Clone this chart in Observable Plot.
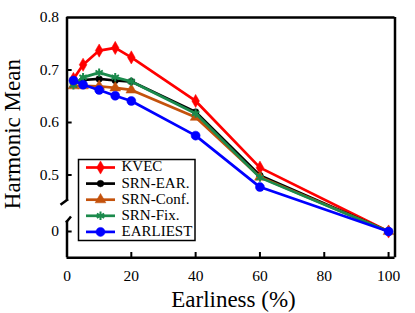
<!DOCTYPE html>
<html>
<head>
<meta charset="utf-8">
<script src="https://cdn.jsdelivr.net/npm/d3@7"></script>
<script src="https://cdn.jsdelivr.net/npm/@observablehq/plot@0.6"></script>
<style>
  html, body { margin: 0; padding: 0; background: #fff; }
  #chart svg { display: block; }
</style>
</head>
<body>
<div id="chart"></div>
<script>
// ---- data ----
const earliness = [2, 5, 10, 15, 20, 40, 60, 100];
const kvec     = [0.683, 0.710, 0.737, 0.742, 0.724, 0.641, 0.514, 0];
const srnEar   = [0.677, 0.681, 0.683, 0.680, 0.678, 0.620, 0.499, 0];
const srnConf  = [0.670, 0.670, 0.669, 0.666, 0.662, 0.610, 0.496, 0];
const srnFix   = [0.671, 0.686, 0.695, 0.686, 0.678, 0.617, 0.495, 0];
const earliest = [0.680, 0.672, 0.662, 0.651, 0.641, 0.575, 0.477, 0];
const seriesNames = ["KVEC", "SRN-EAR.", "SRN-Conf.", "SRN-Fix.", "EARLIEST"];
const xTicks = [0, 20, 40, 60, 80, 100];
const yTicks = [0, 0.5, 0.6, 0.7, 0.8];
const xLabel = "Earliness (%)";
const yLabel = "Harmonic Mean";

const seriesValues = [kvec, srnEar, srnConf, srnFix, earliest];
const styles = [
  {color: "#ff0000", symbol: "diamond", r: 4, filled: true},
  {color: "#000000", symbol: "circle", r: 3.3, filled: true},
  {color: "#c4520c", symbol: "triangle", r: 4, filled: true},
  {color: "#1b8a4c", symbol: "asterisk", r: 4, filled: false},
  {color: "#0000ff", symbol: "circle", r: 4.5, filled: true}
];

const series = seriesNames.map((name, i) => ({
  name, ...styles[i],
  data: earliness.map((x, j) => ({x, y: seriesValues[i][j]}))
}));

const yMin = -0.05, yMax = 0.8, xMax = 102;
const lowTop = 0.02, upBottom = 0.45;
const FONT = "'Liberation Serif', 'Times New Roman', Tinos, Times, 'Nimbus Roman', 'Nimbus Roman No9 L', 'Noto Serif', 'DejaVu Serif', FreeSerif, serif";

const marks = [];
for (const s of series) {
  marks.push(Plot.line(s.data, {x: "x", y: "y", stroke: s.color, strokeWidth: 2.7}));
  marks.push(Plot.dot(s.data, {
    x: "x", y: "y", symbol: s.symbol, r: s.r,
    fill: s.filled ? s.color : "none", stroke: s.color, strokeWidth: s.filled ? 0.5 : 2
  }));
}
// frame (left axis broken)
marks.push(Plot.ruleY([yMax], {x1: 0, x2: xMax, stroke: "#000", strokeWidth: 2.5}));
marks.push(Plot.ruleY([yMin], {x1: 0, x2: xMax, stroke: "#000", strokeWidth: 2.5}));
marks.push(Plot.ruleX([xMax], {y1: yMin, y2: yMax, stroke: "#000", strokeWidth: 2.5}));
marks.push(Plot.ruleX([0], {y1: upBottom, y2: yMax, stroke: "#000", strokeWidth: 2.5}));
marks.push(Plot.ruleX([0], {y1: yMin, y2: lowTop, stroke: "#000", strokeWidth: 2.5}));
// ticks (inward)
marks.push(Plot.ruleY(yTicks.filter(d => d < yMax), {x1: 0, x2: 1.6, stroke: "#000", strokeWidth: 2}));
marks.push(Plot.ruleX(xTicks.filter(d => d > 0), {y1: yMin, y2: yMin + 0.01, stroke: "#000", strokeWidth: 2}));
// tick labels
marks.push(Plot.text(yTicks, {x: 0, y: d => d, text: d => d === 0 ? "0" : d.toFixed(1), textAnchor: "end", dx: -8, fontSize: 15.5, fill: "#000"}));
marks.push(Plot.text(xTicks, {x: d => d, y: yMin, text: d => String(d), dy: 18, fontSize: 15.5, fill: "#000"}));

const chart = Plot.plot({
  width: 415, height: 313,
  marginLeft: 66, marginRight: 20, marginTop: 17, marginBottom: 56,
  x: {type: "linear", domain: [0, xMax], range: [66.5, 394.5], axis: null},
  y: {type: "linear", domain: [yMin, lowTop, upBottom, yMax], range: [257.25, 220.5, 200.75, 17], axis: null},
  style: `font-family: ${FONT};`,
  marks
});
document.getElementById("chart").appendChild(chart);

// decorations: break marks, axis titles, legend
const sx = chart.scale("x"), sy = chart.scale("y");
const svg = d3.select(chart);
svg.selectAll("text").style("font-family", FONT);
const ax = sx.apply(0);
const yUp = sy.apply(upBottom), yLow = sy.apply(lowTop);
svg.append("line").attr("x1", ax - 6).attr("y1", yUp + 4).attr("x2", ax + 1.5).attr("y2", yUp - 1.5)
  .attr("stroke", "#000").attr("stroke-width", 2.5);
svg.append("line").attr("x1", ax - 0.5).attr("y1", yLow + 2).attr("x2", ax + 4.5).attr("y2", yLow - 4)
  .attr("stroke", "#000").attr("stroke-width", 2.5);

svg.append("text").text(yLabel)
  .attr("transform", `translate(15,${(sy.apply(yMax) + sy.apply(yMin)) / 2 - 3}) rotate(-90)`)
  .attr("text-anchor", "middle").attr("dominant-baseline", "middle")
  .style("font-family", FONT).attr("font-size", 23).attr("fill", "#000");
svg.append("text").text(xLabel)
  .attr("x", (sx.apply(0) + sx.apply(xMax)) / 2 + 3).attr("y", 302)
  .attr("text-anchor", "middle").attr("dominant-baseline", "middle")
  .style("font-family", FONT).attr("font-size", 23).attr("fill", "#000");

const lg = svg.append("g");
lg.append("rect").attr("x", 78.5).attr("y", 159.5).attr("width", 116.5).attr("height", 81)
  .attr("fill", "#fff").attr("stroke", "#000").attr("stroke-width", 1.5);
const symMap = {diamond: d3.symbolDiamond, circle: d3.symbolCircle, triangle: d3.symbolTriangle, asterisk: d3.symbolAsterisk};
series.forEach((s, i) => {
  const cy = 167.5 + i * 16.1;
  lg.append("line").attr("x1", 86).attr("x2", 115).attr("y1", cy).attr("y2", cy)
    .attr("stroke", s.color).attr("stroke-width", 2.7);
  lg.append("path").attr("d", d3.symbol(symMap[s.symbol], Math.PI * s.r * s.r)())
    .attr("transform", `translate(100.5,${cy})`)
    .attr("fill", s.filled ? s.color : "none").attr("stroke", s.color).attr("stroke-width", s.filled ? 0.5 : 2);
  lg.append("text").text(s.name).attr("x", 121.5).attr("y", cy + 0.5)
    .attr("text-anchor", "start").attr("dominant-baseline", "middle")
    .style("font-family", FONT).attr("font-size", 15).attr("fill", "#000");
});
</script>
</body>
</html>
